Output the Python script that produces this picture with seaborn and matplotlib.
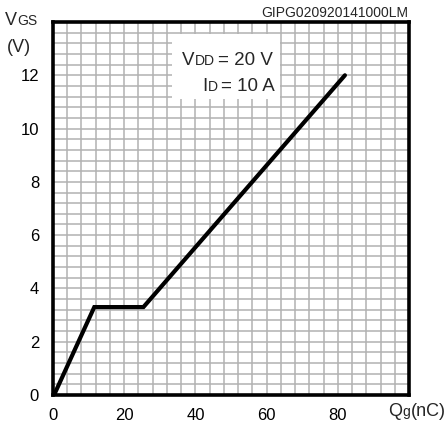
"""
Gate charge vs gate-source voltage (VGS vs Qg) characteristic.
"""
import numpy as np
import pandas as pd
import matplotlib.pyplot as plt
import seaborn as sns
from matplotlib.patches import Rectangle

# curve
qg_nc = [0.3, 11.6, 25.4, 82.0]
vgs_v = [0.0, 3.3, 3.3, 12.0]

x_ticks = [0, 20, 40, 60, 80]
y_ticks = [0, 2, 4, 6, 8, 10, 12]

W, H = 445, 425


def fx(px):
    return px / W


def fy(py):
    return 1 - py / H


def chain_text(fig, x_px, y_px, pieces, gap=0.5):
    """Write text pieces one after another on a common baseline (pixel coords)."""
    renderer = fig.canvas.get_renderer()
    x = x_px
    for s, size in pieces:
        if s.startswith(' '):
            x += size * 0.2
            s = s.lstrip()
        t = fig.text(fx(x), fy(y_px), s, fontsize=size, va='baseline')
        bb = t.get_window_extent(renderer=renderer)
        x = bb.x1 + gap


def plot_gate_charge(data, fig_name='out.png'):
    sns.set_style('white')
    plt.rcParams['font.family'] = ['Liberation Sans', 'DejaVu Sans']

    fig = plt.figure(figsize=(W / 100, H / 100), dpi=100)
    ax = fig.add_axes([fx(53), fy(395), fx(409) - fx(53), fy(22) - fy(395)])

    sns.lineplot(data=data, x='qg', y='vgs', color='k', lw=3.0, ax=ax,
                 zorder=5, solid_joinstyle='miter')

    ax.set_xlim(0, 100)
    ax.set_ylim(0, 14)
    ax.set_xticks(x_ticks)
    ax.set_yticks(y_ticks)
    ax.set_xticks(np.arange(0, 101, 4), minor=True)
    ax.set_yticks(np.arange(0, 14.01, 0.4), minor=True)
    ax.grid(which='both', color='#b2b2b2', lw=1.1)
    ax.set_axisbelow(True)
    ax.tick_params(which='both', length=0, labelsize=12, colors='k')
    ax.tick_params(axis='x', pad=9)
    ax.tick_params(axis='y', pad=10)
    ax.set_xlabel('')
    ax.set_ylabel('')
    for sp in ax.spines.values():
        sp.set_linewidth(2.6)
        sp.set_color('k')

    # white box behind the test conditions
    ax.add_patch(Rectangle((33.4, 11.1), 30.4, 2.45, facecolor='white',
                           edgecolor='none', zorder=3))

    # test conditions
    chain_text(fig, 182, 65, [('V', 13.5), ('DD', 10), (' = 20 V', 13.5)])
    chain_text(fig, 202, 91, [('I', 13.5), ('D', 10), (' = 10 A', 13.5)])

    # axis titles
    chain_text(fig, 5, 25, [('V', 13), ('GS', 10)])
    fig.text(fx(7), fy(52), '(V)', fontsize=13, va='baseline')
    chain_text(fig, 388, 416, [('Q', 13), ('g', 10), ('(nC)', 13)])

    fig.text(fx(408), fy(17), 'GIPG020920141000LM', fontsize=10, ha='right')

    fig.savefig(fig_name, dpi=100)


def main():
    data = pd.DataFrame({'qg': qg_nc, 'vgs': vgs_v})
    plot_gate_charge(data)


if __name__ == '__main__':
    main()
